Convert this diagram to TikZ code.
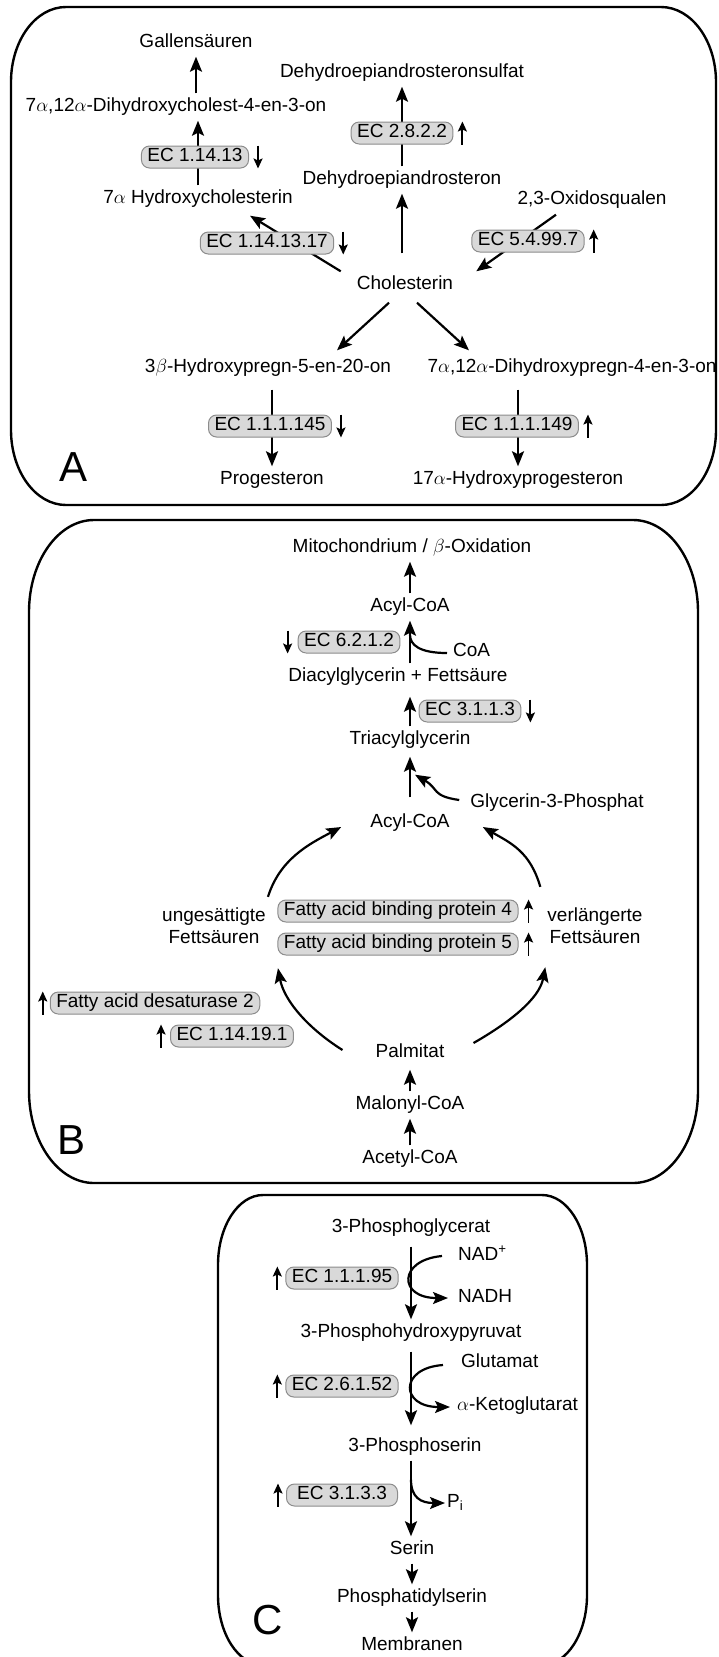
\RequirePackage{fix-cm}
\documentclass[tikz,border=0pt]{standalone}
\usepackage{fontspec}
\setmainfont{Liberation Sans}
\usetikzlibrary{arrows.meta, calc, positioning}
\tikzset{%
    react/.style={%
        -{Stealth[length=15pt, width=12pt, inset=3pt]},
        line width=2.2pt,
        line join=round,
    },
    indic/.style={%
        -{Stealth[length=10pt, width=9pt, inset=2pt]},
        line width=1.8pt,
    },
    metab/.style={%
        font={\fontsize{19}{22}\selectfont},
        inner xsep=2pt, inner ysep=5pt,
        text height=13pt, text depth=4pt,
    },
    metabtwo/.style={%
        font={\fontsize{19}{22}\selectfont},
        align=center,
        inner sep=2pt,
    },
    ecbox/.style={%
        rectangle,
        rounded corners=8pt,
        fill=black!15,
        draw=black!45, line width=1pt,
        font={\fontsize{19}{22}\selectfont},
        inner xsep=6pt, inner ysep=2.5pt,
        text height=13pt, text depth=4pt,
    },
    panel/.style={line width=2.4pt},
    paneltag/.style={font={\fontsize{42}{42}\selectfont}},
}

\begin{document}
\begin{tikzpicture}[x=1pt, y=-1pt]
	\useasboundingbox (0,0) rectangle (718,1657);
	\clip (0,0) rectangle (718,1657);

	% panels
	\draw[panel] (11,82) arc[start angle=180, end angle=270, x radius=55, y radius=75]
		-- (661,7) arc[start angle=270, end angle=360, x radius=55, y radius=75]
		-- (716,430) arc[start angle=0, end angle=90, x radius=55, y radius=75]
		-- (66,505) arc[start angle=90, end angle=180, x radius=55, y radius=75] -- cycle;
	\draw[panel] (29,612) arc[start angle=180, end angle=270, x radius=65, y radius=92]
		-- (633,520) arc[start angle=270, end angle=360, x radius=65, y radius=92]
		-- (698,1091) arc[start angle=0, end angle=90, x radius=65, y radius=92]
		-- (94,1183) arc[start angle=90, end angle=180, x radius=65, y radius=92] -- cycle;
	\draw[panel] (218,1265) arc[start angle=180, end angle=270, x radius=45, y radius=70]
		-- (542,1195) arc[start angle=270, end angle=360, x radius=45, y radius=70]
		-- (587,1595) arc[start angle=0, end angle=90, x radius=45, y radius=70]
		-- (263,1665) arc[start angle=90, end angle=180, x radius=45, y radius=70] -- cycle;

	% A: steroids
	\node [metab] (gallen) at (196,43) {Gallensäuren};
	\node [metab] (dihychol) at (176,107) {7$\alpha$,12$\alpha$-Dihydroxycholest-4-en-3-on};
	\node [metab] (hychol) at (198,199) {7$\alpha$ Hydroxycholesterin};
	\node [metab] (dheas) at (402,73) {Dehydroepiandrosteronsulfat};
	\node [metab] (dhea) at (402,180) {Dehydroepiandrosteron};
	\node [metab] (oxsq) at (592,200) {2,3-Oxidosqualen};
	\node [metab] (chol) at (405,285) {Cholesterin};
	\node [metab] (hypreg) at (268,368) {3$\beta$-Hydroxypregn-5-en-20-on};
	\node [metab] (dihypreg) at (572,368) {7$\alpha$,12$\alpha$-Dihydroxypregn-4-en-3-on};
	\node [metab] (proges) at (272,480) {Progesteron};
	\node [metab] (hyproges) at (518,480) {17$\alpha$-Hydroxyprogesteron};
	\node [paneltag] (tagA) at (74,467) {A};

	\draw[react] (gallen |- dihychol.north) -- (gallen.south);
	\draw[react] (hychol.north) -- (hychol.north |- dihychol.south);
	\draw[react] (dhea.north) -- (dheas.south);
	\draw[react, shorten <=18pt] (chol.north -| dhea) -- (dhea.south);
	\draw[react] ($(chol.north west)+(-14,0)$) -- ($(hychol.south)+(52,3)$);
	\draw[react] ($(oxsq.south)+(-36,1)$) -- ($(chol.north east)+(21,0)$);
	\draw[react] ($(chol.south)+(-16,4)$) -- ($(hypreg.north)+(69,-4)$);
	\draw[react] ($(chol.south)+(12,4)$) -- ($(dihypreg.north)+(-103,-4)$);
	\draw[react, shorten <=8pt] (proges |- hypreg.south) -- (proges.north);
	\draw[react, shorten <=8pt] (hyproges |- dihypreg.south) -- (hyproges.north);

	\node [ecbox] (ec11413) at (195,157) {EC 1.14.13};
	\node [ecbox] (ec2822) at (402,133) {EC 2.8.2.2};
	\node [ecbox] (ec1141317) at (267,243) {EC 1.14.13.17};
	\node [ecbox] (ec54997) at (528,241) {EC 5.4.99.7};
	\node [ecbox] (ec111145) at (270,426) {EC 1.1.1.145};
	\node [ecbox] (ec111149) at (517,426) {EC 1.1.1.149};

	\draw[indic] ([xshift=9pt]ec11413.north east) -- ([xshift=9pt]ec11413.south east);
	\draw[indic] ([xshift=9pt]ec2822.south east) -- ([xshift=9pt]ec2822.north east);
	\draw[indic] ([xshift=9pt]ec1141317.north east) -- ([xshift=9pt]ec1141317.south east);
	\draw[indic] ([xshift=9pt]ec54997.south east) -- ([xshift=9pt]ec54997.north east);
	\draw[indic] ([xshift=9pt]ec111145.north east) -- ([xshift=9pt]ec111145.south east);
	\draw[indic] ([xshift=9pt]ec111149.south east) -- ([xshift=9pt]ec111149.north east);

	% B: fatty acids
	\node [metab] (mito) at (412,548) {Mitochondrium / $\beta$-Oxidation};
	\node [metab] (acyltop) at (410,607) {Acyl-CoA};
	\node [metab, anchor=west] (coa) at (451,652) {CoA};
	\node [metab] (diacyl) at (398,677) {Diacylglycerin + Fettsäure};
	\node [metab] (triacyl) at (410,740) {Triacylglycerin};
	\node [metab] (glyc) at (557,803) {Glycerin-3-Phosphat};
	\node [metab] (acylmid) at (410,823) {Acyl-CoA};
	\node [metabtwo] (unsat) at (214,926) {ungesättigte\\Fettsäuren};
	\node [metabtwo] (elong) at (595,926) {verlängerte\\Fettsäuren};
	\node [metab] (palm) at (410,1053) {Palmitat};
	\node [metab] (malon) at (410,1105) {Malonyl-CoA};
	\node [metab] (acetyl) at (410,1159) {Acetyl-CoA};
	\node [paneltag] (tagB) at (72,1140) {B};

	\draw[react] (acyltop.north) -- (acyltop.north |- mito.south);
	\draw[react] (diacyl.north -| acyltop) -- (acyltop.south);
	\draw[line width=2.2pt] ($(coa.west)+(-4,1)$) .. controls +(-28,0) and +(0,10) .. ($(acyltop.south)+(0,14)$);
	\draw[react, shorten >=6pt] (triacyl.north) -- (triacyl.north |- diacyl.south);
	\draw[react, shorten <=12pt, shorten >=3pt] (acylmid.north) -- (triacyl.south);
	\draw[react] ($(glyc.west)+(-9,-3)$) .. controls +(-28,-4) and +(24,14) .. ($(triacyl.south)+(5,21)$);
	\draw[react] ($(unsat.north east)+(0,-9)$) .. controls +(12,-38) and +(-32,17) .. ($(acylmid.west)+(-27,4)$);
	\draw[react] ($(elong.north west)+(-5,-19)$) .. controls +(-10,-35) and +(28,16) .. ($(acylmid.east)+(31,4)$);
	\draw[react] ($(palm.west)+(-31,-3)$) .. controls +(-35,-22) and +(6,32) .. ($(unsat.south east)+(10,22)$);
	\draw[react] ($(palm.east)+(27,-10)$) .. controls +(35,-20) and +(-6,32) .. ($(elong.south west)+(0,21)$);
	\draw[react, shorten >=3pt] (malon.north) -- (palm.south);
	\draw[react] (acetyl.north) -- (malon.south);

	\node [ecbox] (ec6212) at (349,642) {EC 6.2.1.2};
	\node [ecbox] (ec3113) at (470,711) {EC 3.1.1.3};
	\node [ecbox] (fabp4) at (398,911) {Fatty acid binding protein 4};
	\node [ecbox] (fabp5) at (398,944) {Fatty acid binding protein 5};
	\node [ecbox] (fads2) at (155,1003) {Fatty acid desaturase 2};
	\node [ecbox] (ec114191) at (232,1036) {EC 1.14.19.1};

	\draw[indic] ([xshift=-10pt]ec6212.north west) -- ([xshift=-10pt]ec6212.south west);
	\draw[indic] ([xshift=9pt]ec3113.north east) -- ([xshift=9pt]ec3113.south east);
	\draw[indic] ([xshift=10pt]fabp4.south east) -- ([xshift=10pt]fabp4.north east);
	\draw[indic] ([xshift=10pt]fabp5.south east) -- ([xshift=10pt]fabp5.north east);
	\draw[indic] ([xshift=-7pt]fads2.south west) -- ([xshift=-7pt]fads2.north west);
	\draw[indic] ([xshift=-9pt]ec114191.south west) -- ([xshift=-9pt]ec114191.north west);

	% C: serine
	\node [metab] (pglyc) at (411,1228) {3-Phosphoglycerat};
	\node [metab, anchor=west] (nadp) at (456,1256) {NAD\textsuperscript{+}};
	\node [metab, anchor=west] (nadh) at (456,1298) {NADH};
	\node [metab] (phpyr) at (411,1333) {3-Phosphohydroxypyruvat};
	\node [metab, anchor=west] (glut) at (459,1363) {Glutamat};
	\node [metab, anchor=west] (akglut) at (455,1406) {$\alpha$-Ketoglutarat};
	\node [metab] (pser) at (415,1447) {3-Phosphoserin};
	\node [metab, anchor=west] (phos) at (445,1503) {P\textsubscript{i}};
	\node [metab] (serin) at (412,1550) {Serin};
	\node [metab] (ptdser) at (412,1598) {Phosphatidylserin};
	\node [metab] (membr) at (412,1646) {Membranen};
	\node [paneltag] (tagC) at (268,1620) {C};

	\draw[react, shorten <=5pt] (pglyc.south) -- (phpyr.north);
	\draw[react] ($(nadp.west)+(-14,0)$) .. controls +(-44,4) and +(-50,0) .. ($(nadh.west)+(-8,0)$);
	\draw[react, shorten <=5pt, shorten >=8pt] (phpyr.south) -- (phpyr.south |- pser.north);
	\draw[react] ($(glut.west)+(-16,2)$) .. controls +(-44,3) and +(-50,0) .. ($(akglut.west)+(-5,1)$);
	\draw[react] (pser.south -| phpyr) -- (phpyr |- serin.north);
	\draw[react] ($(pser.south -| phpyr)+(0,19)$) .. controls +(0,18) and +(-24,0) .. (phos.west);
	\draw[react] (serin.south) -- (ptdser.north);
	\draw[react] (ptdser.south) -- (membr.north);

	\node [ecbox, minimum width=111pt] (ec11195) at (342,1278) {EC 1.1.1.95};
	\node [ecbox, minimum width=111pt] (ec26152) at (342,1386) {EC 2.6.1.52};
	\node [ecbox, minimum width=111pt] (ec3133) at (342,1495) {EC 3.1.3.3};

	\draw[indic] ([xshift=-8pt]ec11195.south west) -- ([xshift=-8pt]ec11195.north west);
	\draw[indic] ([xshift=-8pt]ec26152.south west) -- ([xshift=-8pt]ec26152.north west);
	\draw[indic] ([xshift=-8pt]ec3133.south west) -- ([xshift=-8pt]ec3133.north west);
\end{tikzpicture}
\end{document}
